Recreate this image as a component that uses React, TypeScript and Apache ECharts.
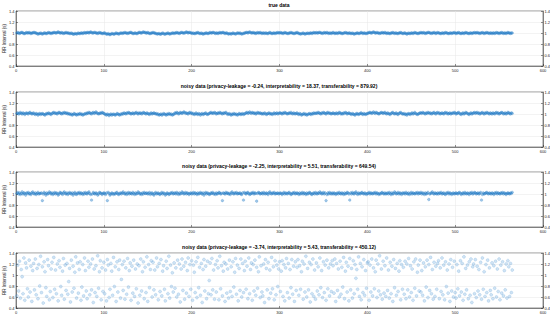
import React, { useEffect, useRef } from 'react';
import * as echarts from 'echarts';

// RR intervals in hundredths of a second
const trueData = [
100,101,100,99,100,101,101,100,99,99,100,101,100,100,101,100,99,100,100,101,
101,100,100,99,98,99,99,100,99,98,99,100,100,99,99,100,101,100,100,99,
100,100,101,101,100,100,101,102,101,100,100,101,100,99,100,100,101,100,100,100,
99,99,100,99,98,98,99,99,98,99,100,99,99,100,100,99,100,101,100,100,
101,101,100,101,102,101,100,100,101,101,100,100,99,100,101,100,100,99,99,100,
100,99,98,98,99,98,97,98,99,99,98,98,99,100,99,99,98,99,100,100,
99,100,100,101,100,100,99,100,100,101,101,100,99,99,100,100,99,99,100,101,
101,100,100,101,102,101,101,100,100,101,100,99,99,100,100,101,100,100,99,99,
98,99,99,98,98,99,100,99,98,98,99,99,100,99,98,99,99,100,100,99,
100,100,101,100,100,99,100,101,101,100,100,100,101,102,101,100,101,101,100,100,
99,100,99,99,100,100,101,100,99,99,100,99,98,99,99,100,100,99,99,100,
101,100,100,101,101,100,99,100,100,99,100,101,100,100,101,101,100,99,100,100,
99,98,99,99,98,99,100,99,99,98,99,100,100,99,100,99,98,99,99,100,
100,101,101,100,101,102,101,100,100,101,100,100,99,100,101,100,100,101,100,99,
100,100,99,100,100,99,99,100,101,100,99,99,100,100,99,100,100,101,100,100,
101,100,100,99,100,101,100,100,99,99,100,100,101,100,100,99,99,100,100,101,
100,99,99,98,99,99,100,99,98,99,99,100,99,99,100,100,99,100,101,100,
100,101,100,100,101,101,100,100,99,100,101,100,100,101,100,99,100,100,99,100,
101,100,99,100,100,99,100,101,100,100,99,99,100,100,101,100,100,99,100,100,
99,99,100,99,98,99,99,100,100,99,99,100,101,100,99,100,100,99,99,100,
100,101,101,100,100,101,102,101,100,100,101,100,100,99,100,100,101,100,100,101,
100,99,100,100,99,99,100,100,101,100,99,100,100,99,99,100,100,101,100,99,
99,100,100,99,98,99,100,99,99,100,100,99,100,101,100,100,99,99,100,100,
101,100,100,101,100,99,100,100,101,101,100,100,99,100,100,101,100,99,100,101,
100,100,99,99,100,100,99,100,101,100,100,99,99,100,100,99,100,100,101,100,
99,100,100,101,100,99,99,100,100,99,100,101,100,100,99,99,100,100,99,100,
100,101,100,100,101,100,100,99,100,100,101,100,99,100,100,101,100,100,99,100,
100,99,100,100,99,100,101,100,100,99,100,100,101,100,99,100,100,99,100,101,
100,100,99,100,100
];

const noisyA = [
101,102,100,101,103,101,100,102,101,99,101,102,101,100,102,103,101,100,101,102,
100,99,101,100,98,100,101,99,100,101,100,99,98,100,101,100,102,101,100,99,
101,102,103,101,102,101,100,102,103,102,101,100,102,101,103,102,101,102,100,101,
100,99,100,98,99,101,100,99,98,100,99,100,101,99,100,98,99,100,101,100,
102,101,103,102,101,100,102,103,101,102,104,102,101,100,101,102,101,103,102,101,
100,99,98,100,99,97,99,100,98,99,100,99,98,99,101,100,99,98,100,99,
101,100,102,101,100,102,101,103,102,101,100,101,102,100,101,102,103,101,100,102,
101,102,100,101,103,102,101,100,102,101,100,99,101,102,100,101,102,101,100,101,
99,100,98,99,100,98,99,101,100,99,98,100,99,101,100,99,100,98,99,100,
102,101,103,102,100,101,103,102,101,102,104,103,101,102,101,100,102,103,101,102,
100,101,99,100,102,100,99,101,100,98,100,101,99,100,101,102,100,99,100,101,
102,103,101,102,101,103,102,100,101,102,101,103,102,101,100,102,101,102,103,101,
99,100,101,99,98,100,99,101,100,99,100,98,99,101,100,99,100,101,99,100,
101,102,103,101,102,104,102,101,103,102,101,102,100,101,103,102,101,102,101,100,
101,100,102,101,99,100,101,102,100,101,100,99,101,102,100,101,102,100,101,102,
102,101,100,102,101,103,102,101,100,101,102,101,103,101,100,102,101,100,101,102,
100,99,101,100,98,99,100,101,99,100,98,99,100,101,100,99,101,100,102,101,
101,102,101,103,102,101,100,102,101,103,102,101,100,102,103,101,102,101,100,101,
102,101,100,101,102,100,101,103,102,100,101,100,102,101,103,102,100,101,102,101,
100,99,101,100,99,98,100,101,100,99,100,101,102,100,99,101,100,99,100,101,
101,102,103,102,101,102,104,102,101,103,102,101,100,101,102,103,102,101,102,103,
101,100,102,101,100,99,101,102,103,101,100,101,102,100,99,101,102,103,101,100,
100,101,99,100,98,100,101,100,99,101,102,100,101,103,101,100,99,100,101,102,
102,101,103,102,101,100,102,101,103,102,101,102,100,101,102,103,101,100,102,103,
101,102,100,101,102,101,100,102,103,101,102,100,101,102,100,101,102,101,103,102,
100,101,102,103,101,100,99,101,102,100,101,103,102,101,100,99,101,102,100,101,
102,103,101,102,103,101,102,100,101,102,103,101,100,102,101,103,102,101,100,102,
101,100,102,101,100,102,103,101,102,100,101,102,103,102,100,101,102,100,101,103,
102,101,100,102,101
];

const noisyB = [
101,103,100,102,99,101,104,100,102,101,98,102,101,103,100,101,99,102,104,101,
100,102,99,101,103,100,101,101,102,88,100,103,101,98,102,100,101,104,102,100,
102,99,101,103,100,102,101,98,100,103,102,101,99,102,104,101,100,102,99,101,
103,101,100,102,98,101,103,100,99,102,101,103,100,102,101,99,102,100,103,101,
100,102,104,101,99,89,100,103,101,100,102,101,98,100,103,102,101,99,101,102,
101,99,102,88,103,101,98,100,102,101,99,101,100,102,103,100,99,101,102,100,
102,104,101,100,102,99,101,103,100,102,101,100,103,101,99,102,100,101,104,102,
100,101,99,102,100,103,101,101,102,100,101,103,99,101,102,100,98,101,103,100,
101,102,100,99,101,103,100,102,101,98,100,102,101,99,100,102,101,103,100,101,
102,100,103,101,99,102,100,101,104,102,100,101,103,100,102,101,99,101,102,100,
101,103,100,102,101,99,102,100,101,103,101,100,102,98,101,103,100,102,101,99,
100,102,101,103,100,101,99,102,100,101,103,102,100,101,88,102,101,100,103,101,
102,100,101,99,102,104,101,100,102,101,103,100,101,101,102,100,99,102,89,103,
101,100,102,103,101,99,100,102,101,103,100,102,101,87,101,103,102,100,101,102,
100,103,101,100,102,101,99,102,104,101,100,102,101,103,100,101,101,102,100,101,
102,101,99,101,103,100,102,101,100,102,103,101,99,100,102,101,103,100,101,102,
101,99,102,100,101,103,100,102,101,99,102,100,101,103,102,100,99,101,102,100,
103,101,100,102,101,104,102,100,101,103,100,102,88,99,102,100,103,101,100,102,
100,102,101,99,101,102,100,103,101,100,102,101,99,102,100,101,103,102,100,89,
102,100,103,101,100,102,104,101,99,102,101,100,102,103,101,100,102,101,99,101,
101,103,100,102,101,100,102,101,103,100,102,101,99,101,100,102,103,101,100,102,
100,101,102,100,103,101,99,102,100,101,104,102,100,101,103,100,102,101,99,102,
101,102,100,103,101,100,102,99,101,103,100,102,101,100,102,101,103,100,102,101,
103,100,102,101,99,102,100,101,103,90,100,101,102,104,101,100,102,101,100,102,
100,102,101,103,100,101,102,100,99,102,101,103,100,102,101,99,101,102,100,101,
102,101,100,102,103,101,99,101,102,100,103,101,100,102,101,99,102,101,103,100,
101,103,102,100,101,102,100,101,103,89,99,102,100,101,102,103,101,100,102,101,
100,102,101,99,102,101,103,100,102,101,100,102,101,103,100,102,101,99,101,102,
101,100,102,101,103
];

const noisyC = [
62,118,71,125,58,110,97,66,131,54,122,113,75,60,127,69,116,52,108,121,
73,129,64,112,57,119,80,134,68,115,49,124,106,77,61,128,117,55,70,111,
123,59,132,74,109,66,120,53,126,114,79,63,107,130,56,118,72,121,65,88,
112,51,127,69,116,76,105,133,58,122,67,110,124,54,78,119,62,131,108,71,
57,125,114,64,120,73,129,50,111,68,117,61,135,76,106,126,55,113,70,123,
66,109,53,128,118,59,74,121,107,63,132,79,115,52,124,69,110,127,58,92,
119,72,125,56,113,65,130,78,108,122,54,116,67,127,61,111,75,120,49,117,
63,129,71,106,124,57,114,68,133,52,119,77,110,126,60,123,73,109,64,131,
115,55,121,70,128,62,107,117,74,53,125,112,66,134,58,118,79,104,69,122,
76,113,60,127,65,120,51,111,129,72,116,56,123,67,108,131,61,119,74,126,
54,118,105,68,124,59,132,77,114,63,121,50,110,128,71,116,57,125,66,90,
122,64,130,73,109,56,119,69,126,113,55,134,75,117,62,107,123,52,120,67,
111,58,127,70,115,61,124,78,105,130,65,118,53,112,72,129,60,121,68,108,
125,74,116,57,131,66,110,122,54,119,71,127,63,114,76,106,133,59,117,69,
62,120,50,128,112,73,123,57,109,67,132,75,115,55,126,64,118,79,111,124,
70,107,126,61,119,53,113,130,68,121,58,110,77,128,65,116,52,124,72,114,
128,63,117,74,106,125,56,120,69,134,60,112,73,123,51,119,66,129,61,109,
56,122,71,115,64,131,77,108,59,124,68,118,54,127,75,113,62,120,70,126,
117,67,129,52,121,72,111,60,125,65,114,78,132,57,107,123,69,116,53,130,
73,112,58,126,66,119,94,110,74,133,61,121,55,115,68,128,63,108,76,122,
124,54,118,69,129,62,113,75,106,127,59,120,71,135,64,111,56,125,67,117,
61,131,72,109,58,123,66,116,52,128,77,112,63,121,70,107,126,55,119,74,
114,65,125,57,120,73,130,60,117,68,111,54,124,76,129,62,105,118,71,127,
69,108,63,122,53,115,78,127,59,119,72,132,66,110,56,123,61,116,74,121,
126,57,113,70,131,64,118,55,124,79,109,67,120,52,128,71,114,60,125,68,
58,119,75,107,62,126,69,121,54,133,65,112,73,118,57,124,63,129,50,115,
120,66,128,59,116,71,110,64,123,56,131,74,106,61,119,68,127,53,113,72,
64,122,57,117,76,125,60,111,70,129,55,118,67,124,62,108,73,120,58,126,
115,61,121,68,109
];

const panelTitles = [
  'true data',
  'noisy data (privacy-leakage = -0.24, interpretability = 18.37, transferability = 879.92)',
  'noisy data (privacy-leakage = -2.25, interpretability = 5.51, transferability = 649.54)',
  'noisy data (privacy-leakage = -3.74, interpretability = 5.43, transferability = 450.12)',
];

const yLabel = 'RR Interval (s)';
const xMin = 0;
const xMax = 600;
const xStep = 100;
const yMin = 0.4;
const yMax = 1.4;
const yStep = 0.2;

export default function App() {
  const ref = useRef<HTMLDivElement>(null);
  useEffect(() => {
    const chart = echarts.init(ref.current as HTMLDivElement, null, { renderer: 'svg' });
    const panels = [trueData, noisyA, noisyB, noisyC];
    const tops = [11, 92, 172, 253];
    const H = 55;
    const axisColor = '#262626';
    const grids: any[] = [];
    const xAxes: any[] = [];
    const yAxes: any[] = [];
    const series: any[] = [];
    const titles: any[] = [];
    panels.forEach((arr, i) => {
      grids.push({
        left: 16, right: 7, top: tops[i], height: H, show: true,
        borderColor: axisColor, borderWidth: 0.5,
        containLabel: false, outerBoundsMode: 'none',
      });
      titles.push({
        text: panelTitles[i], left: 279, top: tops[i] - 9, textAlign: 'center', padding: 0,
        textStyle: { fontSize: 5, fontWeight: 'bold', color: '#000', fontFamily: 'Liberation Sans' },
      });
      xAxes.push({
        gridIndex: i, type: 'value', min: xMin, max: xMax, interval: xStep,
        axisLine: { lineStyle: { color: axisColor, width: 0.5 } },
        axisTick: { inside: true, length: 2, lineStyle: { color: axisColor, width: 0.5 } },
        axisLabel: { fontSize: 4, color: axisColor, margin: 2, fontFamily: 'Liberation Sans' },
        splitLine: { show: true, lineStyle: { color: '#e6e6e6', width: 0.5 } },
      });
      yAxes.push({
        gridIndex: i, type: 'value', min: yMin, max: yMax, interval: yStep, position: 'left',
        name: yLabel, nameLocation: 'middle', nameGap: 9, nameMoveOverlap: false,
        nameTextStyle: { fontSize: 4.5, color: axisColor, fontFamily: 'Liberation Sans' },
        axisLine: { show: true, lineStyle: { color: axisColor, width: 0.5 } },
        axisTick: { show: true, inside: true, length: 2, lineStyle: { color: axisColor, width: 0.5 } },
        axisLabel: { fontSize: 4, color: axisColor, margin: 1.5, fontFamily: 'Liberation Sans' },
        splitLine: { show: true, lineStyle: { color: '#e6e6e6', width: 0.5 } },
      });
      yAxes.push({
        gridIndex: i, type: 'value', min: yMin, max: yMax, interval: yStep, position: 'right',
        axisLine: { show: true, lineStyle: { color: axisColor, width: 0.5 } },
        axisTick: { show: true, inside: true, length: 2, lineStyle: { color: axisColor, width: 0.5 } },
        axisLabel: { fontSize: 4, color: axisColor, margin: 1.5, fontFamily: 'Liberation Sans' },
        splitLine: { show: false },
      });
      series.push({
        type: 'scatter', xAxisIndex: i, yAxisIndex: i * 2,
        data: arr.map((v, k) => [k + 1, v / 100]),
        symbol: 'circle', symbolSize: i === 3 ? 3 : 2.6,
        itemStyle: {
          color: i === 3 ? 'rgba(110,170,220,0.4)' : 'rgba(40,130,200,0.55)',
          borderColor: i === 3 ? 'rgba(60,135,200,0.55)' : 'rgba(20,110,190,0.7)',
          borderWidth: 0.4,
        },
      });
    });
    chart.setOption({
      animation: false,
      backgroundColor: '#fff',
      title: titles,
      grid: grids,
      xAxis: xAxes,
      yAxis: yAxes,
      series,
    });
    return () => chart.dispose();
  }, []);
  return <div ref={ref} style={{ position: 'fixed', left: 0, top: 0, width: 550, height: 319 }} />;
}
